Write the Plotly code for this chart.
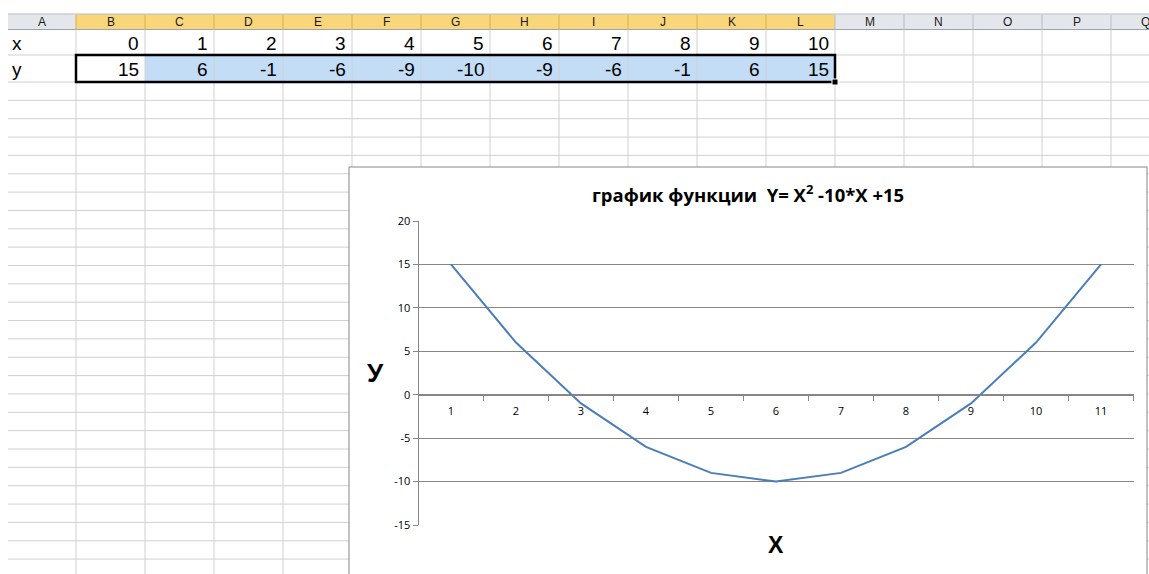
import plotly.graph_objects as go

# ---------------- data ----------------
categories = ["1", "2", "3", "4", "5", "6", "7", "8", "9", "10", "11"]
y_values = [15, 6, -1, -6, -9, -10, -9, -6, -1, 6, 15]
x_row_values = [0, 1, 2, 3, 4, 5, 6, 7, 8, 9, 10]
y_row_values = [15, 6, -1, -6, -9, -10, -9, -6, -1, 6, 15]
col_letters = ["A", "B", "C", "D", "E", "F", "G", "H", "I", "J", "K", "L", "M", "N", "O", "P", "Q"]
row_labels = ["x", "y"]
y_ticks = [-15, -10, -5, 0, 5, 10, 15, 20]
y_tick_labels = ["-15", "-10", "-5", "0", "5", "10", "15", "20"]
chart_title = "<b>график функции  Y= X<sup>2</sup> -10*X +15</b>"
x_title = "<b>X</b>"
y_title = "<b>У</b>"

# ---------------- geometry (pixels) ----------------
W, H = 1149, 574


def px(x):
    return x / W


def py(y):
    return 1 - y / H


col_edges = [8] + [76 + 69 * k for k in range(17)]
hdr_top, hdr_bot = 14, 29.5
row_edges = [hdr_bot, 55, 82]
r = 82
while r < H:
    r += 18.35
    row_edges.append(r)

shapes = []
annotations = []

GRID = "#D0D0D0"

# header cells
for i, letter in enumerate(col_letters):
    x0, x1 = col_edges[i], min(col_edges[i + 1], W + 40)
    selected = 1 <= i <= 11
    fill = "#F9D67A" if selected else "#E3E6EA"
    shapes.append(dict(type="rect", xref="paper", yref="paper", layer="below",
                       x0=px(x0), x1=px(x1), y0=py(hdr_bot), y1=py(hdr_top),
                       fillcolor=fill, line=dict(width=0)))
    annotations.append(dict(xref="paper", yref="paper", x=px((x0 + x1) / 2), y=py((hdr_top + hdr_bot) / 2),
                            text=letter, showarrow=False, xanchor="center", yanchor="middle",
                            font=dict(family="Liberation Sans", size=12, color="#1A1A1A")))
# header separators
for i, e in enumerate(col_edges[1:], start=1):
    c = "#D7AF4E" if 1 <= i <= 11 else "#B8BEC6"
    shapes.append(dict(type="line", xref="paper", yref="paper", layer="below",
                       x0=px(e), x1=px(e), y0=py(hdr_bot), y1=py(hdr_top + 1),
                       line=dict(color=c, width=1)))
shapes.append(dict(type="line", xref="paper", yref="paper", layer="below",
                   x0=px(8), x1=1, y0=py(hdr_top), y1=py(hdr_top), line=dict(color="#B8BEC6", width=1)))
shapes.append(dict(type="line", xref="paper", yref="paper", layer="below",
                   x0=px(8), x1=1, y0=py(hdr_bot), y1=py(hdr_bot), line=dict(color="#9AA3AE", width=1)))

# selection fill
shapes.append(dict(type="rect", xref="paper", yref="paper", layer="below",
                   x0=px(col_edges[2]), x1=px(col_edges[12]), y0=py(82), y1=py(55),
                   fillcolor="#C3DDF7", line=dict(width=0)))

# grid lines
for e in col_edges[1:]:
    shapes.append(dict(type="line", xref="paper", yref="paper", layer="below",
                       x0=px(e), x1=px(e), y0=0, y1=py(hdr_bot), line=dict(color=GRID, width=1)))
for e in row_edges[1:]:
    shapes.append(dict(type="line", xref="paper", yref="paper", layer="below",
                       x0=px(8), x1=1, y0=py(e), y1=py(e), line=dict(color=GRID, width=1)))

# selection border + fill handle
shapes.append(dict(type="rect", xref="paper", yref="paper", layer="below",
                   x0=px(col_edges[1]), x1=px(col_edges[12]), y0=py(82), y1=py(55),
                   line=dict(color="#000000", width=2.5)))
shapes.append(dict(type="rect", xref="paper", yref="paper", layer="below",
                   x0=px(col_edges[12] - 3), x1=px(col_edges[12] + 3), y0=py(85), y1=py(79),
                   fillcolor="#000000", line=dict(color="#FFFFFF", width=1)))

# cell texts
cell_font = dict(family="Liberation Sans", size=19, color="#000000")
row_centers = [(row_edges[0] + row_edges[1]) / 2 + 1, (row_edges[1] + row_edges[2]) / 2 + 1]
for label, yc in zip(row_labels, row_centers):
    annotations.append(dict(xref="paper", yref="paper", x=px(10), y=py(yc), text=label,
                            showarrow=False, xanchor="left", yanchor="middle", font=cell_font))
for k, (xv, yv) in enumerate(zip(x_row_values, y_row_values)):
    right = col_edges[k + 2] - 4
    annotations.append(dict(xref="paper", yref="paper", x=px(right), y=py(row_centers[0]), text=str(xv),
                            showarrow=False, xanchor="right", yanchor="middle", font=cell_font))
    annotations.append(dict(xref="paper", yref="paper", x=px(right), y=py(row_centers[1]), text=str(yv),
                            showarrow=False, xanchor="right", yanchor="middle", font=cell_font))

# chart area
shapes.append(dict(type="rect", xref="paper", yref="paper", layer="below",
                   x0=px(349), x1=px(1147), y0=-0.05, y1=py(167),
                   fillcolor="#FFFFFF", line=dict(color="#868686", width=1)))

# chart titles
annotations.append(dict(xref="paper", yref="paper", x=px(748), y=py(193), text=chart_title,
                        showarrow=False, xanchor="center", yanchor="middle",
                        font=dict(family="Open Sans", size=18.5, color="#000000")))
annotations.append(dict(xref="paper", yref="paper", x=px(776), y=py(545), text=x_title,
                        showarrow=False, xanchor="center", yanchor="middle",
                        font=dict(family="Liberation Sans", size=23, color="#000000")))
annotations.append(dict(xref="paper", yref="paper", x=px(375), y=py(373), text=y_title,
                        showarrow=False, xanchor="center", yanchor="middle",
                        font=dict(family="Liberation Sans", size=26, color="#000000")))

# ---------------- figure ----------------
ydom = [py(525), py(221)]
zero_pos = ydom[0] + (0 - (-15)) / 35 * (ydom[1] - ydom[0])

fig = go.Figure()
fig.add_trace(go.Scatter(x=categories, y=y_values, mode="lines",
                         line=dict(color="#4A7EBB", width=2), hoverinfo="x+y"))

tick_font = dict(family="Open Sans", size=11, color="#000000")
fig.update_layout(
    width=W, height=H, autosize=False,
    margin=dict(l=0, r=0, t=0, b=0, pad=0, autoexpand=False),
    paper_bgcolor="#FFFFFF", plot_bgcolor="rgba(0,0,0,0)",
    showlegend=False,
    shapes=shapes, annotations=annotations,
    xaxis=dict(domain=[px(418.5), px(1133.5)], type="category", categoryorder="array",
               categoryarray=categories, range=[-0.5, 10.5],
               anchor="free", position=zero_pos, side="bottom", automargin=False,
               showline=True, linecolor="#868686", linewidth=1,
               ticks="outside", tickson="boundaries", ticklen=5, tickcolor="#868686",
               ticklabelstandoff=6,
               showgrid=False, zeroline=False, tickfont=tick_font, fixedrange=True),
    yaxis=dict(domain=ydom, range=[-15, 20], tickvals=y_ticks, ticktext=y_tick_labels,
               automargin=False,
               showline=True, linecolor="#868686", linewidth=1,
               ticks="outside", ticklen=5, tickcolor="#868686",
               showgrid=True, gridcolor="#868686", gridwidth=1,
               zeroline=False, tickfont=tick_font, fixedrange=True),
)

fig.write_html("out.html", config={"displayModeBar": False},
               post_script="document.body.style.margin='0';document.body.style.overflow='hidden';")
